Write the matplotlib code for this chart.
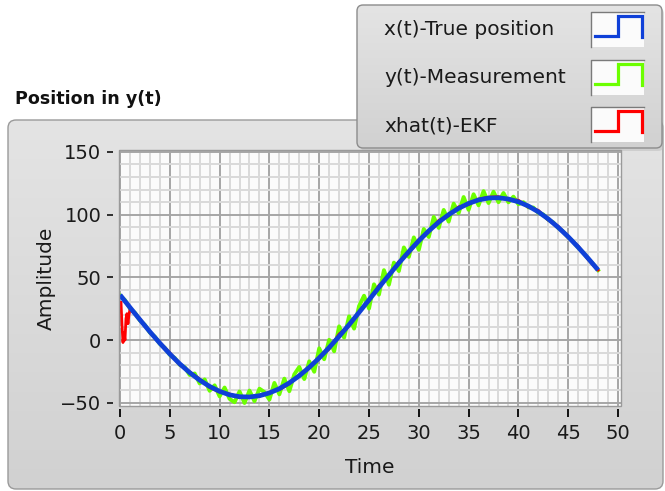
import numpy as np
import matplotlib
matplotlib.use("Agg")
import matplotlib.pyplot as plt
from matplotlib.patches import FancyBboxPatch, Rectangle
from matplotlib.colors import LinearSegmentedColormap
from matplotlib.ticker import MultipleLocator

plt.rcParams['font.family'] = ['DejaVu Sans']

# x(t): true position, sampled every 1 s
t_true = list(range(0, 49))
x_true = [36.0, 26.0, 16.2, 6.6, -2.5, -11.1, -19.0, -26.0, -32.0, -37.0,
          -40.9, -43.7, -45.2, -45.4, -44.4, -42.2, -38.8, -34.2, -28.5, -21.8,
          -14.3, -6.0, 2.9, 12.2, 22.0, 32.0, 42.0, 51.8, 61.4, 70.5,
          79.1, 87.0, 94.0, 100.0, 105.0, 108.9, 111.7, 113.2, 113.4, 112.4,
          110.2, 106.8, 102.2, 96.5, 89.8, 82.3, 74.0, 65.1, 55.8]

# y(t): noisy measurement, sampled every 0.5 s
t_meas = [i * 0.5 for i in range(97)]
y_meas = [35.5, 31.8, 25.2, 21.7, 15.6, 12.0, 5.9, 2.7, -3.1, -6.2,
          -11.8, -14.3, -19.8, -21.6, -27.9, -26.7, -34.6, -31.4, -40.5, -36.1,
          -44.9, -37.9, -46.9, -49.6, -41.0, -50.2, -40.3, -48.8, -38.8, -41.5,
          -47.5, -34.2, -43.3, -30.8, -40.8, -27.4, -21.5, -31.1, -17.0, -25.3,
          -6.6, -15.3, 0.2, -9.0, 10.9, 1.9, 18.9, 9.1, 27.0, 35.3,
          25.1, 44.4, 36.2, 55.7, 44.1, 61.7, 55.0, 73.8, 66.3, 81.8,
          71.9, 88.5, 82.2, 98.1, 89.4, 103.7, 94.4, 108.7, 101.2, 114.0,
          103.8, 116.2, 107.4, 118.7, 109.2, 118.2, 109.9, 117.2, 109.8, 114.3,
          108.3, 109.9, 105.8, 105.6, 101.4, 100.1, 95.9, 93.8, 89.3, 86.5,
          81.9, 78.5, 73.7, 69.8, 64.9, 60.6, 55.7]

# xhat(t): EKF estimate, transient in the first second then tracking
t_ekf = [0.1, 0.2, 0.3, 0.4, 0.5, 0.6, 0.7, 0.8, 0.9, 1.0] + list(range(2, 49))
x_ekf = [30.0, 12.0, -2.0, 6.0, 0.0, 17.0, 21.0, 13.0, 20.0, 24.5,
         16.8, 6.0, -1.9, -10.2, -19.8, -25.4, -31.1, -37.9, -41.5,
         -43.0, -45.9, -45.0, -44.9, -41.6, -39.5, -34.9, -27.7, -22.6,
         -13.5, -7.2, 4.8, 11.3, 22.8, 30.9, 43.6, 50.9, 62.6, 69.2,
         80.3, 86.1, 95.4, 99.1, 106.2, 108.0, 112.4, 113.9, 114.3, 111.6,
         111.5, 105.9, 103.4, 95.6, 90.7, 81.5, 74.9, 64.2, 55.8]

legend_labels = ['x(t)-True position', 'y(t)-Measurement', 'xhat(t)-EKF']
c_true = '#0f40d8'
c_meas = '#6cff00'
c_ekf = '#ff0000'
legend_colors = [c_true, c_meas, c_ekf]

fig = plt.figure(figsize=(6.65, 4.91), dpi=100)
fig.patch.set_facecolor('white')

# background layer in pixel coordinates
bg = fig.add_axes([0, 0, 1, 1], zorder=0)
bg.set_xlim(0, 665)
bg.set_ylim(491, 0)
bg.axis('off')

panel_cmap = LinearSegmentedColormap.from_list('panel', ['#e4e4e4', '#d1d1d1'])
grad = np.linspace(0, 1, 256).reshape(-1, 1)


def rounded_panel(x0, y0, x1, y1, r, edge, z):
    box = FancyBboxPatch((x0 + r, y0 + r), (x1 - x0) - 2 * r, (y1 - y0) - 2 * r,
                         boxstyle='round,pad=%g' % r, facecolor='none',
                         edgecolor=edge, linewidth=1.0, zorder=z + 1)
    bg.add_patch(box)
    im = bg.imshow(grad, cmap=panel_cmap, extent=(x0, x1, y1, y0),
                   aspect='auto', zorder=z, interpolation='bilinear')
    im.set_clip_path(box)
    return box


rounded_panel(8, 120, 663, 489, 8, '#9a9a9a', 2)
bg.text(15, 99, 'Position in y(t)', fontsize=12.6, fontweight='bold',
        color='#111111', ha='left', va='center', zorder=4)

# legend box with a soft shadow
shadow = FancyBboxPatch((360 + 6, 8 + 6), 304 - 12, 143 - 12,
                        boxstyle='round,pad=6', facecolor='#bcbcbc',
                        edgecolor='none', alpha=0.5, zorder=4)
bg.add_patch(shadow)
rounded_panel(357, 5, 662, 148, 6, '#8c8c8c', 5)

row_text_y = [29, 77, 126]
row_box_top = [12, 60, 107]
for label, color, ty, by in zip(legend_labels, legend_colors, row_text_y, row_box_top):
    bg.text(384, ty, label, fontsize=14.5, color='#1a1a1a',
            ha='left', va='center', zorder=7)
    bg.add_patch(Rectangle((591, by), 53, 35, facecolor='#fbfbfb',
                           edgecolor='none', zorder=7))
    bg.plot([591, 591, 644], [by + 35, by, by], color='#7a7a7a', lw=1.0, zorder=8)
    bg.plot([595, 618, 618, 642, 642],
            [by + 24, by + 24, by + 4, by + 4, by + 25],
            color=color, lw=2.3, solid_joinstyle='miter', zorder=8)

# plot area
ax = fig.add_axes([119 / 665, 1 - 406 / 491, 502 / 665, 256 / 491], zorder=1)
ax.set_facecolor('#fbfbfb')
ax.set_xlim(-0.1, 50.3)
ax.set_ylim(-52.6, 151.5)

ax.xaxis.set_major_locator(MultipleLocator(5))
ax.xaxis.set_minor_locator(MultipleLocator(1))
ax.yaxis.set_major_locator(MultipleLocator(50))
ax.yaxis.set_minor_locator(MultipleLocator(10))
ax.grid(which='minor', color='#dadada', linewidth=1.4)
ax.grid(which='major', color='#a6a6a6', linewidth=1.4)
ax.set_axisbelow(True)

ax.plot(t_meas, y_meas, color=c_meas, lw=2.8, zorder=3)
ax.plot(t_ekf, x_ekf, color=c_ekf, lw=2.0, zorder=4)
ax.plot(t_true, x_true, color=c_true, lw=3.4, zorder=5,
        solid_capstyle='butt')

for side in ['top', 'right']:
    ax.spines[side].set_visible(False)
ax.spines['bottom'].set_position(('outward', 2.2))
ax.spines['left'].set_position(('outward', 4.3))
ax.spines['bottom'].set_color('none')
ax.spines['left'].set_color('none')
ax.add_patch(Rectangle((0, 0), 1, 1, transform=ax.transAxes, fill=False,
                       edgecolor='#9a9a9a', linewidth=1.0, zorder=10,
                       clip_on=False))

ax.tick_params(axis='x', which='major', direction='out', length=5.8, width=1.4,
               color='#111111', labelsize=14, labelcolor='#1a1a1a', pad=5)
ax.tick_params(axis='y', which='major', direction='out', length=4.3, width=1.2,
               color='#111111', labelsize=14, labelcolor='#1a1a1a', pad=4)
ax.tick_params(which='minor', length=0)

ax.set_xlabel('Time', fontsize=14.5, color='#1a1a1a', labelpad=11)
ax.set_ylabel('Amplitude', fontsize=14.5, color='#1a1a1a', labelpad=3)

fig.savefig('out.png', dpi=100)
